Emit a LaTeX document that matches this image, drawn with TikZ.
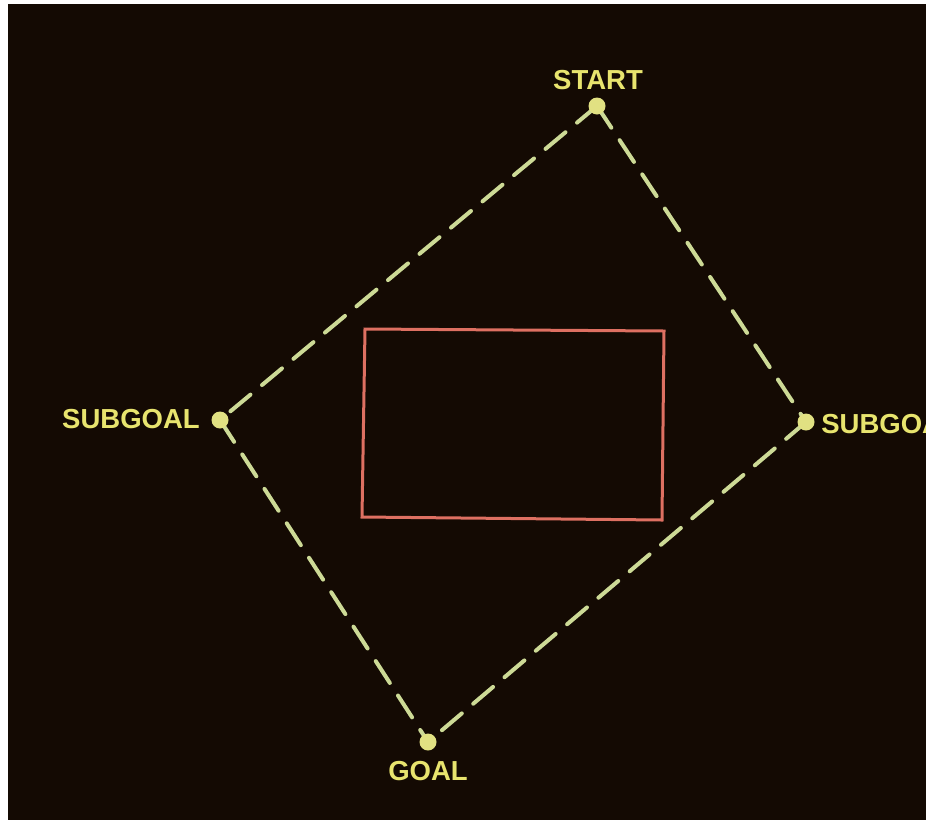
\documentclass[tikz,border=0pt]{standalone}
\usepackage{fontspec}
\setmainfont{Liberation Sans}
\definecolor{bgdark}{RGB}{20,10,3}
\definecolor{pathcol}{RGB}{205,218,150}
\definecolor{labelcol}{RGB}{232,228,110}
\definecolor{dotcol}{RGB}{225,225,130}
\definecolor{boxcol}{RGB}{222,112,98}
\tikzset{
  pathline/.style={draw=pathcol, line width=4pt, line cap=round, dash pattern=on 26pt off 15pt},
  waydot/.style={circle, fill=dotcol, inner sep=0pt, minimum size=17pt},
  wlabel/.style={text=labelcol, draw=labelcol, line width=0.6pt, font=\bfseries\fontsize{27.5}{31}\selectfont, inner sep=0pt},
  obstacle/.style={draw=boxcol, line width=3pt, line join=miter}
}
\begin{document}
\begin{tikzpicture}[x=1pt,y=-1pt]
\useasboundingbox (0,0) rectangle (926,820);
\clip (0,0) rectangle (926,820);
\fill[white] (0,0) rectangle (926,820);
\fill[bgdark] (8,4) rectangle (926,820);
% waypoints
\coordinate (S) at (597,106);
\coordinate (L) at (220,420);
\coordinate (R) at (806,422);
\coordinate (G) at (428,742);
% obstacle corners
\coordinate (b1) at (365,329);
\coordinate (b2) at (664,331);
\coordinate (b3) at (662,520);
\coordinate (b4) at (362,517);
\draw[obstacle] (b1) -- (b2) -- (b3) -- (b4) -- cycle;
% paths
\draw[pathline] (S) -- (L);
\draw[pathline] (L) -- (G);
\draw[pathline] (S) -- (R);
\draw[pathline] (R) -- (G);
% dots
\node[waydot] (Sd) at (S) {};
\node[waydot] (Ld) at (L) {};
\node[waydot] (Rd) at (R) {};
\node[waydot] (Gd) at (G) {};
% labels
\node[wlabel, draw=none, anchor=south] (Sl) at (598,90) {START};
\node[wlabel, draw=none, anchor=east] (Ll) at (200,419) {SUBGOAL};
\node[wlabel, draw=none, anchor=west] (Rl) at (821,424) {SUBGOAL};
\node[wlabel, draw=none, anchor=north] (Gl) at (428,761) {GOAL};
\end{tikzpicture}
\end{document}
